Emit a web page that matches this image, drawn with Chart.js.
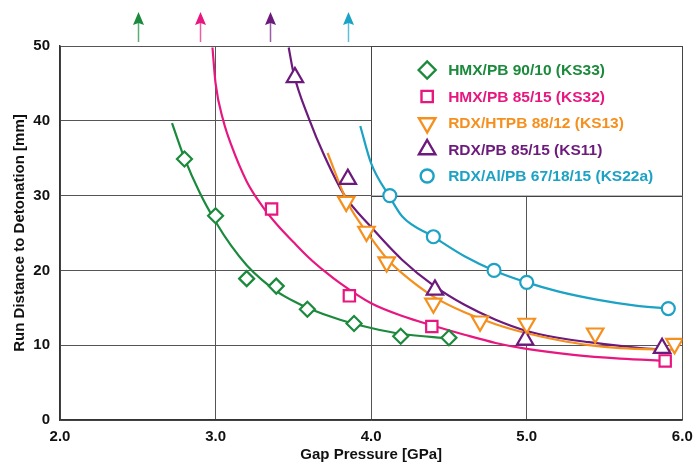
<!DOCTYPE html>
<html>
<head>
<meta charset="utf-8">
<script src="https://cdn.jsdelivr.net/npm/chart.js@4.4.0/dist/chart.umd.min.js"></script>
<style>
  body { margin: 0; background: #fff; }
</style>
</head>
<body>
<canvas id="chartGap" width="694" height="464"></canvas>
<script>
// series labels + colours
const seriesNames = ['HMX/PB 90/10 (KS33)', 'HMX/PB 85/15 (KS32)', 'RDX/HTPB 88/12 (KS13)', 'RDX/PB 85/15 (KS11)', 'RDX/Al/PB 67/18/15 (KS22a)'];
const seriesColors = ['#1b8a3c', '#e8177f', '#f5901e', '#6c1a7c', '#1ca2c4'];

// measured points (gap pressure GPa, run distance mm)
const ks33X = [2.80, 3.00, 3.20, 3.39, 3.59, 3.89, 4.19, 4.50];
const ks33Y = [34.9, 27.3, 18.9, 17.9, 14.8, 12.9, 11.2, 11.0];
const ks32X = [3.36, 3.86, 4.39, 5.89];
const ks32Y = [28.2, 16.6, 12.5, 7.9];
const ks13X = [3.84, 3.97, 4.10, 4.40, 4.70, 5.00, 5.44, 5.95];
const ks13Y = [29.2, 25.2, 21.1, 15.6, 13.2, 12.9, 11.6, 10.2];
const ks11X = [3.51, 3.85, 4.41, 4.99, 5.87];
const ks11Y = [45.8, 32.2, 17.4, 10.7, 9.6];
const ks22aX = [4.12, 4.40, 4.79, 5.00, 5.91];
const ks22aY = [30.0, 24.5, 20.0, 18.4, 14.9];

// fitted curves
const fit33X = [2.72, 2.8, 2.9, 3.0, 3.1, 3.2, 3.3, 3.4, 3.5, 3.6, 3.8, 4.0, 4.2, 4.5];
const fit33Y = [39.7, 35.0, 30.3, 26.5, 23.3, 20.7, 18.7, 17.1, 15.9, 14.9, 13.4, 12.3, 11.5, 10.9];
const fit32X = [2.98, 3.0, 3.05, 3.1, 3.2, 3.3, 3.4, 3.5, 3.6, 3.7, 3.8, 4.0, 4.2, 4.4, 4.6, 4.8, 5.0, 5.3, 5.6, 5.9];
const fit32Y = [49.8, 45.0, 40.0, 36.8, 31.9, 28.6, 26.0, 23.8, 21.7, 19.9, 18.3, 15.6, 13.9, 12.6, 11.4, 10.3, 9.5, 8.7, 8.2, 7.9];
const fit13X = [3.72, 3.85, 4.0, 4.1, 4.2, 4.4, 4.6, 4.8, 5.0, 5.2, 5.4, 5.6, 5.95];
const fit13Y = [35.7, 29.0, 24.3, 21.6, 19.6, 16.5, 14.4, 12.8, 11.6, 10.7, 10.0, 9.6, 9.4];
const fit11X = [3.47, 3.5, 3.6, 3.7, 3.83, 4.0, 4.2, 4.4, 4.6, 4.8, 5.0, 5.2, 5.4, 5.6, 5.8, 5.9];
const fit11Y = [49.8, 46.5, 40.3, 35.3, 30.0, 25.8, 21.4, 18.0, 15.4, 13.4, 11.9, 11.0, 10.4, 9.9, 9.5, 9.45];
const fit22aX = [3.93, 4.0, 4.12, 4.2, 4.4, 4.6, 4.8, 5.0, 5.2, 5.45, 5.7, 5.91];
const fit22aY = [39.3, 34.3, 29.8, 27.2, 24.5, 21.9, 19.9, 18.4, 17.2, 16.1, 15.3, 14.9];

// off-scale results (arrows above the plot)
const arrowX = [2.5, 2.9, 3.35, 3.85];
const arrowSeries = [0, 1, 3, 4];

// axis ticks
const xTicks = [2, 3, 4, 5, 6];
const yTicks = [0, 10, 20, 30, 40, 50];

const markerStyles = [
  { pointStyle: 'rectRot', radius: 7.5, rotation: 0 },
  { pointStyle: 'rect', radius: 8, rotation: 0 },
  { pointStyle: 'triangle', radius: 9.5, rotation: 180 },
  { pointStyle: 'triangle', radius: 9.5, rotation: 0 },
  { pointStyle: 'circle', radius: 6.5, rotation: 0 }
];

const pointsX = [ks33X, ks32X, ks13X, ks11X, ks22aX];
const pointsY = [ks33Y, ks32Y, ks13Y, ks11Y, ks22aY];
const fitsX = [fit33X, fit32X, fit13X, fit11X, fit22aX];
const fitsY = [fit33Y, fit32Y, fit13Y, fit11Y, fit22aY];

function zip(xs, ys) {
  return xs.map((x, i) => ({ x: x, y: ys[i] }));
}

const datasets = [];
seriesNames.forEach((name, i) => {
  datasets.push({
    label: name,
    data: zip(pointsX[i], pointsY[i]),
    showLine: false,
    pointStyle: markerStyles[i].pointStyle,
    pointRadius: markerStyles[i].radius,
    pointRotation: markerStyles[i].rotation,
    pointBorderWidth: 2.2,
    pointBorderColor: seriesColors[i],
    pointBackgroundColor: '#fff',
    pointHoverRadius: markerStyles[i].radius,
    order: 0
  });
});
seriesNames.forEach((name, i) => {
  datasets.push({
    label: name + ' fit',
    data: zip(fitsX[i], fitsY[i]),
    showLine: true,
    borderColor: seriesColors[i],
    borderWidth: 2.2,
    pointRadius: 0,
    cubicInterpolationMode: 'monotone',
    order: 1
  });
});

// legend box sitting inside the plot (top right cell)
const legendBox = {
  id: 'legendBox',
  beforeDatasetsDraw(chart) {
    const ctx = chart.ctx;
    const xs = chart.scales.x, ys = chart.scales.y;
    const x0 = xs.getPixelForValue(4), x1 = xs.getPixelForValue(6);
    const y0 = ys.getPixelForValue(50), y1 = ys.getPixelForValue(30);
    ctx.save();
    ctx.fillStyle = '#fff';
    ctx.fillRect(x0, y0, x1 - x0, y1 - y0);
    ctx.strokeStyle = '#444';
    ctx.lineWidth = 1;
    ctx.beginPath();
    ctx.moveTo(Math.round(x0) + 0.5, y0);
    ctx.lineTo(Math.round(x0) + 0.5, y1);
    ctx.moveTo(x0, Math.round(y1) + 0.5);
    ctx.lineTo(x1, Math.round(y1) + 0.5);
    ctx.moveTo(x0, Math.round(y0) + 0.5);
    ctx.lineTo(x1, Math.round(y0) + 0.5);
    ctx.moveTo(Math.round(x1) + 0.5, y0);
    ctx.lineTo(Math.round(x1) + 0.5, y1);
    ctx.stroke();

    const mx = x0 + 56, tx = x0 + 77;
    ctx.font = 'bold 15.5px "Liberation Sans", Arial, sans-serif';
    ctx.textBaseline = 'middle';
    seriesNames.forEach((name, i) => {
      const y = y0 + 24 + i * 26.5;
      ctx.fillStyle = '#fff';
      ctx.strokeStyle = seriesColors[i];
      ctx.lineWidth = 2.4;
      Chart.helpers.drawPoint(ctx, {
        pointStyle: markerStyles[i].pointStyle,
        radius: markerStyles[i].radius + (i === 0 ? 1 : 0),
        rotation: markerStyles[i].rotation,
        borderWidth: 2.4
      }, mx, y);
      ctx.fillStyle = seriesColors[i];
      ctx.fillText(name, tx, y + 1);
    });
    ctx.restore();
  },
  afterDraw(chart) {
    const ctx = chart.ctx;
    const xs = chart.scales.x;
    const top = chart.chartArea.top;
    ctx.save();
    arrowX.forEach((v, i) => {
      const x = Math.round(xs.getPixelForValue(v)) + 0.5;
      const c = seriesColors[arrowSeries[i]];
      ctx.globalAlpha = 0.7;
      ctx.strokeStyle = c;
      ctx.lineWidth = 1.5;
      ctx.beginPath();
      ctx.moveTo(x, top - 4);
      ctx.lineTo(x, top - 24);
      ctx.stroke();
      ctx.globalAlpha = 1;
      ctx.fillStyle = c;
      ctx.beginPath();
      ctx.moveTo(x, top - 34);
      ctx.lineTo(x - 5.5, top - 21);
      ctx.lineTo(x, top - 23);
      ctx.lineTo(x + 5.5, top - 21);
      ctx.closePath();
      ctx.fill();
    });
    ctx.restore();
  }
};

const tickFont = { family: '"Liberation Sans", Arial, sans-serif', size: 15, weight: 'bold' };

new Chart(document.getElementById('chartGap'), {
  type: 'scatter',
  data: { datasets: datasets },
  options: {
    responsive: false,
    animation: false,
    layout: { padding: { top: 46, right: 11, left: 0, bottom: 0 } },
    plugins: {
      legend: { display: false },
      tooltip: { enabled: false }
    },
    scales: {
      x: {
        type: 'linear',
        min: 2,
        max: 6,
        afterBuildTicks: axis => { axis.ticks = xTicks.map(v => ({ value: v })); },
        afterFit: axis => {
          axis.height = 44;
          axis.paddingLeft = 0;
          axis.paddingRight = 0;
        },
        ticks: {
          color: '#111',
          font: tickFont,
          padding: 8,
          callback: v => v.toFixed(1)
        },
        grid: { color: '#555', lineWidth: 1, drawTicks: false },
        border: { color: '#333', width: 1.5 },
        title: {
          display: true,
          text: 'Gap Pressure [GPa]',
          color: '#111',
          font: tickFont,
          padding: { top: 0, bottom: 0 }
        }
      },
      y: {
        type: 'linear',
        min: 0,
        max: 50,
        afterBuildTicks: axis => { axis.ticks = yTicks.map(v => ({ value: v })); },
        afterFit: axis => {
          axis.width = 60;
          axis.paddingTop = 0;
          axis.paddingBottom = 0;
        },
        ticks: {
          color: '#111',
          font: tickFont,
          padding: 10
        },
        grid: { color: '#555', lineWidth: 1, drawTicks: false },
        border: { color: '#333', width: 1.5 },
        title: {
          display: true,
          text: 'Run Distance to Detonation [mm]',
          color: '#111',
          font: tickFont,
          padding: { top: 11, bottom: 0 }
        }
      }
    }
  },
  plugins: [legendBox]
});
</script>
</body>
</html>
